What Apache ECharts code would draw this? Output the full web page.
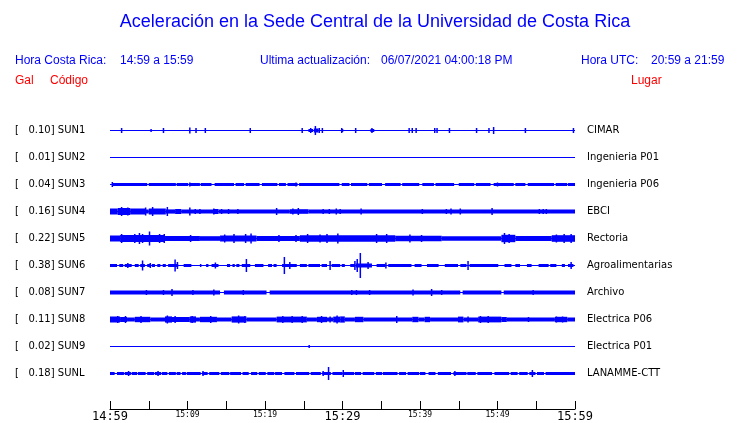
<!DOCTYPE html>
<html><head><meta charset="utf-8">
<script src="https://cdn.jsdelivr.net/npm/echarts@6/dist/echarts.min.js"></script>
<style>html,body{margin:0;padding:0;background:#fff}#c{width:740px;height:423px}</style>
</head><body><div id="c"></div>
<script>
// ---- texts ----
const titleText = 'Aceleración en la Sede Central de la Universidad de Costa Rica';
const localLabel = 'Hora Costa Rica:';
const localRange = '14:59 a 15:59';
const updLabel = 'Ultima actualización:';
const updValue = '06/07/2021 04:00:18 PM';
const utcLabel = 'Hora UTC:';
const utcRange = '20:59 a 21:59';
const colGal = 'Gal', colCode = 'Código', colPlace = 'Lugar';

// ---- stations ----
const codes = ['SUN1','SUN2','SUN3','SUN4','SUN5','SUN6','SUN7','SUN8','SUN9','SUNL'];
const gals = [0.10,0.01,0.04,0.16,0.22,0.38,0.08,0.11,0.02,0.18];
const places = ['CIMAR','Ingenieria P01','Ingenieria P06','EBCI','Rectoria','Agroalimentarias','Archivo','Electrica P06','Electrica P01','LANAMME-CTT'];
const tickLabels = ['14:59','15:09','15:19','15:29','15:39','15:49','15:59'];

// ---- trace envelopes: [startMin, endMin, halfAmplitude] and spikes [min, halfAmplitude] ----
const bands1 = [[25.6,26.2,1],[26.3,26.9,1.5],[29.8,30.1,1],[33.6,34.1,1]];
const spikes1 = [[1.5,2],[5.3,1],[6.9,2],[10.3,2.5],[11.1,2],[12.3,2],[18.1,2],[24.8,2],[25.9,2],[26.5,4],[27.0,2],[27.4,2],[29.9,2],[31.7,2],[33.8,2],[38.6,2],[39.0,2],[39.5,2],[41.9,2],[42.2,2],[43.8,2],[47.3,2],[48.9,2],[49.5,3],[53.6,2],[59.8,2]];
const bands2 = [];
const spikes2 = [];
const bands3 = [[0.3,4.8,1],[5.0,8.5,1],[8.6,10.1,1],[10.3,11.6,1],[11.7,13.1,1],[13.5,16.0,1],[16.2,17.3,1],[17.5,19.3,1],[19.6,21.6,1],[21.8,22.7,1],[22.9,24.2,1],[24.4,29.6,1],[29.9,30.9,1],[31.1,33.2,1],[33.4,35.1,1],[35.5,37.5,1],[37.7,39.9,1],[40.3,41.8,1],[42.0,44.4,1],[45.0,47.0,1],[47.2,49.1,1],[49.5,52.1,1],[52.3,53.6,1],[53.9,57.3,1],[57.5,59.0,1],[59.1,60,1]];
const spikes3 = [[0.3,2],[10.3,1.5],[24.0,1.5],[50.0,1.5]];
const bands4 = [[0,1.0,2.5],[1.0,2.6,3],[2.6,4.6,2.5],[4.6,5.0,1.5],[5.0,7.2,2.5],[7.2,8.4,1.6],[8.4,9.2,2],[9.2,13.3,1.5],[13.3,14.0,2],[14.0,23.2,1.5],[23.2,25.6,1.8],[25.6,60,1.5]];
const spikes4 = [[1.5,4],[2.3,3.5],[4.6,3.5],[5.5,4],[7.4,4],[10.3,3.5],[11.0,2],[11.6,2],[13.4,2.5],[14.4,2],[15.3,2],[16.5,2],[21.5,3],[23.6,2.5],[24.3,3],[27.5,2],[28.3,2],[29.2,2.5],[29.7,2],[32.4,2.5],[40.3,2],[43.4,2],[44.0,2.5],[45.2,2.5],[49.3,3],[55.4,2],[55.9,2],[56.3,2]];
const bands5 = [[0,1.3,2.5],[1.3,7.1,3],[7.1,11.6,2],[11.6,14.2,1.8],[14.2,18.9,2.5],[18.9,24.5,2],[24.5,36.8,2.8],[36.8,42.8,2.3],[42.8,50.5,1.8],[50.5,52.3,3.2],[52.3,57,2],[57,60,2.8]];
const spikes5 = [[1.5,4],[3.2,4],[3.8,5],[4.2,4],[5.1,6.5],[6.4,4],[7.0,4],[10.4,3],[14.8,3.5],[16.0,4],[17.5,4],[18.2,4.5],[21.8,3],[24.0,3],[25.5,4],[27.1,3.5],[28.0,4],[29.4,4.5],[34.4,4],[35.7,4],[38.7,3.5],[40.2,3],[50.9,5],[51.5,4],[57.6,3.5],[58.6,4],[59.5,4]];
const bands6 = [[0,0.9,1],[1.2,1.7,1],[1.9,2.8,1],[3.2,3.7,1],[3.9,4.5,1],[4.8,5.2,1],[5.4,5.8,1],[6.1,6.5,1],[6.8,7.2,1],[7.5,8.8,1],[9.5,10.5,1],[11.6,11.8,1],[12.4,12.7,1],[13.1,14.0,1],[15.1,15.5,1],[15.8,16.1,1],[16.3,16.7,1],[17.0,18.1,1],[18.7,19.8,1],[20.4,20.9,1],[21.1,21.5,1],[22.2,24.1,1],[24.5,25.4,1],[25.6,27.1,1],[27.3,28.0,1],[28.6,29.7,1],[29.9,30.3,1],[31.0,31.6,1],[31.7,33.8,1.5],[34.4,35.5,1],[35.9,38.9,1],[39.3,40.2,1],[40.9,42.4,1],[43.2,44.9,1],[45.2,46.0,1],[46.4,50.1,1],[50.9,51.8,1],[52.3,52.9,1],[53.8,54.4,1],[55.3,56.6,1],[56.8,57.6,1],[58.3,58.7,1],[59.1,59.8,1]];
const spikes6 = [[2.3,2],[4.2,4.5],[5.2,2],[8.4,5.5],[8.7,3],[13.6,2.5],[17.6,6],[22.5,8],[23.2,3],[28.4,4],[31.6,4],[31.9,6],[32.3,12],[33.3,3],[35.6,2.5],[46.2,4],[59.5,3]];
const bands7 = [[0,14.2,1.4],[14.7,20.2,1.4],[20.6,45.2,1.4],[45.5,50.5,1.4],[50.8,60,1.4]];
const spikes7 = [[4.7,2],[6.9,2],[8.0,3],[10.7,2],[13.4,2.5],[17.2,2],[31.2,2],[31.8,2],[33.5,2],[39.1,2.5],[41.5,3],[42.8,2],[54.6,2]];
const bands8 = [[0,1.3,2.5],[1.3,2.2,2],[2.2,3.2,1.5],[3.2,5.2,2.2],[5.2,7.1,1.5],[7.1,8.0,2.6],[8.0,10.3,2],[10.3,11.1,2.6],[11.1,11.6,1.5],[11.6,13.8,2.2],[13.8,15.7,1.5],[15.7,17.6,2.6],[17.6,21.5,1.5],[21.5,25.4,2.4],[25.4,26.7,1.5],[26.7,28.0,2.2],[28.0,28.8,1.5],[28.8,29.7,2.4],[29.7,30.3,2.6],[30.3,31.6,1.5],[31.6,32.7,2.2],[32.7,39.0,1.5],[39.0,39.8,2.2],[39.8,40.6,1.5],[40.6,41.3,2.2],[41.3,44.9,1.5],[44.9,45.6,2.4],[45.6,47.5,1.5],[47.5,50.5,2.4],[50.5,51.2,2],[51.2,57.4,1.5],[57.4,59.0,2.2],[59.0,60,1.5]];
const spikes8 = [[1.0,3],[2.0,3],[4.0,3],[7.4,3.5],[8.4,3],[10.6,3],[13.0,3],[16.6,3.5],[17.4,3],[22.3,3],[23.5,3],[24.8,3],[27.3,3],[28.4,2.5],[29.3,3.5],[37.0,3],[46.2,2.5],[47.8,3],[48.8,3],[54.0,2],[57.6,2.5],[58.4,2.5]];
const bands9 = [];
const spikes9 = [[25.7,1]];
const bands10 = [[0,0.6,1],[0.9,1.8,1],[1.9,2.7,1],[2.8,3.5,1],[3.6,4.6,1],[4.8,5.7,1],[5.8,6.6,1],[6.7,7.4,1],[7.6,8.5,1],[8.6,9.1,1],[9.3,9.8,1],[9.9,11.7,1],[11.9,12.6,1],[12.8,14.1,1],[14.3,15.4,1],[15.5,16.9,1],[17.1,17.9,1],[18.2,19.0,1],[19.2,20.1,1],[20.3,21.2,1],[21.3,22.2,1],[22.5,23.8,1],[24.0,25.7,1],[25.9,27.2,1],[27.4,28.5,1],[28.7,30.0,1],[30.2,31.5,1],[31.6,32.4,1],[32.6,34.1,1],[34.3,35.1,1],[35.2,37.1,1],[37.3,38.2,1],[38.4,39.9,1],[40.0,40.7,1],[41.1,42.0,1],[42.3,44.0,1],[44.3,46.0,1],[46.1,47.2,1],[47.4,49.3,1],[49.6,51.5,1],[51.7,52.6,1],[52.8,53.9,1],[54.1,54.9,1],[55.1,56.0,1],[56.2,60,1]];
const spikes10 = [[2.4,2],[6.2,2],[12.0,2],[27.5,2],[28.2,6],[30.1,3],[44.5,2],[54.5,3]];

const BLUE = '#0000ff';
const RED = '#ff0000';
const SPACING = 27;
const traceBands = [bands1,bands2,bands3,bands4,bands5,bands6,bands7,bands8,bands9,bands10];
const traceSpikes = [spikes1,spikes2,spikes3,spikes4,spikes5,spikes6,spikes7,spikes8,spikes9,spikes10];

const bandData = [], spikeData = [];
codes.forEach((c, i) => {
  const base = SPACING * i;
  bandData.push([0, 60, base, 0]);
  traceBands[i].forEach(b => bandData.push([b[0], b[1], base, b[2]]));
  traceSpikes[i].forEach(s => spikeData.push([s[0], base, s[1]]));
});

function renderBand(params, api) {
  const s = api.value(0), e = api.value(1), base = api.value(2), a = api.value(3);
  const p0 = api.coord([s, base - a - 0.5]);
  const p1 = api.coord([e, base + a + 0.5]);
  return { type: 'rect', shape: { x: p0[0], y: p0[1], width: p1[0] - p0[0], height: p1[1] - p0[1] }, style: { fill: BLUE } };
}
function renderSpike(params, api) {
  const m = api.value(0), base = api.value(1), a = api.value(2);
  const p0 = api.coord([m, base - a - 0.5]);
  const p1 = api.coord([m, base + a + 0.5]);
  return { type: 'rect', shape: { x: p0[0] - 0.75, y: p0[1], width: 1.5, height: p1[1] - p0[1] }, style: { fill: BLUE } };
}

function txt(text, x, y, font, fill, align) {
  return { type: 'text', x: x, y: y, style: { text: text, font: font, fill: fill, align: align || 'left', verticalAlign: 'middle' } };
}
const F12 = '12px "Liberation Sans", Arial, sans-serif';

const chart = echarts.init(document.getElementById('c'), null, { renderer: 'canvas' });
chart.setOption({
  animation: false,
  backgroundColor: '#ffffff',
  graphic: [
    txt(titleText, 375, 22, '18px "Liberation Sans", Arial, sans-serif', BLUE, 'center'),
    txt(localLabel, 15, 61, F12, BLUE),
    txt(localRange, 120, 61, F12, BLUE),
    txt(updLabel, 260, 61, F12, BLUE),
    txt(updValue, 381, 61, F12, BLUE),
    txt(utcLabel, 581, 61, F12, BLUE),
    txt(utcRange, 651, 61, F12, BLUE),
    txt(colGal, 15, 81, F12, RED),
    txt(colCode, 50, 81, F12, RED),
    txt(colPlace, 631, 81, F12, RED)
  ],
  grid: { left: 110, right: 165, top: 117, bottom: 36, containLabel: false },
  xAxis: {
    type: 'value', min: 0, max: 60, interval: 5, position: 'bottom', offset: 22,
    axisLine: { show: true, onZero: false, lineStyle: { color: '#000', width: 1 } },
    axisTick: { show: true, inside: true, length: 8, lineStyle: { color: '#000', width: 1 } },
    splitLine: { show: false },
    axisLabel: {
      margin: 2, showMinLabel: true, showMaxLabel: true, hideOverlap: false,
      formatter: function (v) {
        if (v % 10) return '';
        const k = v / 10;
        return (k % 3 === 0) ? '{b|' + tickLabels[k] + '}' : '{s|' + tickLabels[k] + '}';
      },
      rich: {
        b: { fontFamily: 'DejaVu Sans Mono', fontSize: 12, color: '#000' },
        s: { fontFamily: 'DejaVu Sans Mono', fontSize: 8, color: '#000' }
      }
    }
  },
  yAxis: [
    { type: 'value', min: -13.5, max: 256.5, inverse: true, show: false },
    {
      type: 'category', data: codes, inverse: true, position: 'left',
      axisLine: { show: false }, axisTick: { show: false }, splitLine: { show: false },
      axisLabel: {
        margin: 95, align: 'left', color: '#000', fontFamily: 'DejaVu Sans', fontSize: 10,
        formatter: function (v, idx) { return '[   ' + gals[idx].toFixed(2) + '] ' + v; }
      }
    },
    {
      type: 'category', data: places, inverse: true, position: 'right',
      axisLine: { show: false }, axisTick: { show: false }, splitLine: { show: false },
      axisLabel: { margin: 12, align: 'left', color: '#000', fontFamily: 'DejaVu Sans', fontSize: 10 }
    }
  ],
  series: [
    { type: 'custom', yAxisIndex: 0, renderItem: renderBand, data: bandData, encode: { x: [0, 1], y: 2 }, silent: true, clip: false },
    { type: 'custom', yAxisIndex: 0, renderItem: renderSpike, data: spikeData, encode: { x: 0, y: 1 }, silent: true, clip: false }
  ]
});
</script>
</body></html>
